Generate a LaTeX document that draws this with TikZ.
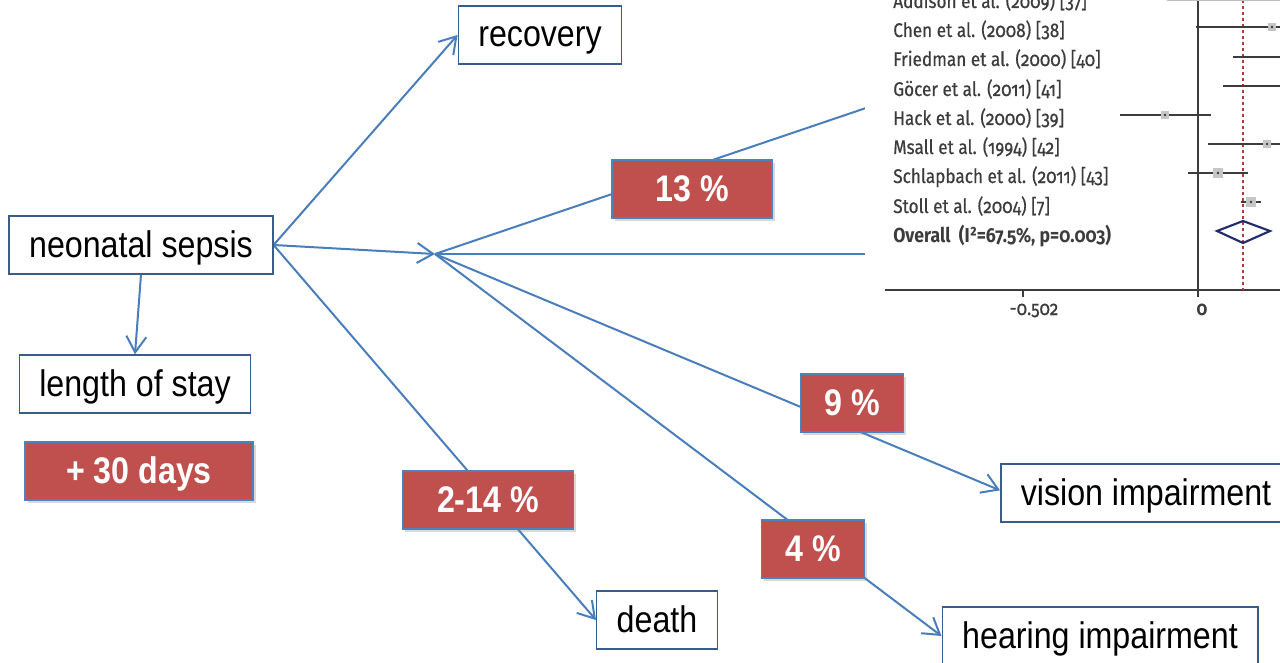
\documentclass[tikz,border=0pt]{standalone}
\usepackage{fontspec}
\setmainfont{Liberation Sans}
\newfontfamily\slidefont[FakeStretch=0.87]{Liberation Sans}
\newfontfamily\plotfont[FakeStretch=0.87,FakeBold=0.6,Numbers=OldStyle]{Fira Sans}
\newfontfamily\plotboldfont[FakeStretch=0.87,Numbers=OldStyle]{Fira Sans Bold}
\usetikzlibrary{arrows.meta,shadows,backgrounds}
\definecolor{linkblue}{HTML}{4A7EBB}
\definecolor{framenavy}{HTML}{385D8A}
\definecolor{ratered}{HTML}{C0504D}
\definecolor{rateedge}{HTML}{4F81BD}
\definecolor{plotgray}{HTML}{3C3C3C}
\definecolor{plotnavy}{HTML}{1F2D6E}
\definecolor{plotred}{HTML}{B03A3A}
\begin{document}
\begin{tikzpicture}[x=0.75pt,y=-0.75pt]
 \tikzset{outcome/.style={draw=framenavy, line width=1.1pt, fill=white, inner xsep=15pt, inner ysep=0pt, text height=23.8pt, text depth=5.8pt, minimum height=43.5pt, font=\slidefont\fontsize{27.75}{30}\selectfont}}
 \tikzset{rate/.style={draw=rateedge, line width=1.1pt, fill=ratered, text=white, inner ysep=0pt, text height=24pt, text depth=6pt, minimum height=43.5pt, font=\slidefont\bfseries\fontsize{27.75}{30}\selectfont, drop shadow={shadow xshift=2pt, shadow yshift=-2.5pt, opacity=0.3}}}
 \tikzset{link/.style={draw=linkblue, line width=1.5pt}}
 \tikzset{arrowlink/.style={link, -{Straight Barb[length=12pt,width=15pt]}}}
 \tikzset{study/.style={anchor=base west, inner sep=0pt, text=plotgray, font=\plotfont\fontsize{14.8}{16}\selectfont}}
 \useasboundingbox (0,0) rectangle (1280,663);
 % outcome boxes
 \node[outcome] (sepsis) at (141,245) {neonatal sepsis};
 \node[outcome] (stay) at (135,384) {length of stay};
 \node[outcome] (recovery) at (540,35) {recovery};
 \node[outcome] (death) at (657,620) {death};
 \node[outcome] (vision) at (1146,493) {vision impairment};
 \node[outcome] (hearing) at (1100,636) {hearing impairment};
 % rates
 \node[rate, minimum width=171pt] (days) at (139,471) {+ 30 days};
 \node[rate, minimum width=120pt] (rate13) at (692,189) {13 \%};
 \node[rate, minimum width=128pt] (rate214) at (488,500) {2-14 \%};
 \node[rate, minimum width=77pt] (rate9) at (852,403) {9 \%};
 \node[rate, minimum width=77pt] (rate4) at (813,549) {4 \%};
 \coordinate (fork) at (435,254);
 \coordinate (hiddenup) at (866,108);
 \coordinate (hiddenmid) at (866,254);
 % connectors
 \begin{scope}[on background layer]
  \draw[arrowlink] (sepsis.east) -- (recovery.west);
  \draw[arrowlink] (sepsis.east) -- (fork);
  \draw[arrowlink] (sepsis.east) -- (death.west);
  \draw[arrowlink] (sepsis.south) -- (stay.north);
  \draw[link] (fork) -- (hiddenup);
  \draw[link] (fork) -- (hiddenmid);
  \draw[arrowlink] (fork) -- ([yshift=2pt]vision.west);
  \draw[arrowlink] (fork) -- (hearing.west);
 \end{scope}
 % forest plot
 \fill[white] (865,0) rectangle (1280,330);
 \draw[plotgray, line width=1.2pt] (885,290) -- (1280,290);
 \draw[plotgray, line width=1.2pt] (1023,290) -- (1023,297);
 \draw[plotgray, line width=1.2pt] (1198,0) -- (1198,297);
 \draw[plotred, line width=1pt, dash pattern=on 2.5pt off 2pt] (1243,0) -- (1243,290);
 \draw[gray!50, line width=1.5pt] (1167,0) -- (1280,0);
 \draw[plotgray, line width=1.5pt] (1196,27) -- (1280,27);
 \draw[plotgray, line width=1.5pt] (1233,57) -- (1280,57);
 \draw[plotgray, line width=1.5pt] (1223,86) -- (1280,86);
 \draw[plotgray, line width=1.5pt] (1120,115) -- (1211,115);
 \draw[plotgray, line width=1.5pt] (1208,144) -- (1280,144);
 \draw[plotgray, line width=1.5pt] (1188,173) -- (1248,173);
 \draw[plotgray, line width=1.5pt] (1241,202) -- (1261,202);
 \fill[gray!45] (1268,23) rectangle (1276,31);
 \fill[gray!45] (1161,111) rectangle (1169,119);
 \fill[gray!45] (1263,140) rectangle (1271,148);
 \fill[gray!45] (1213,168) rectangle (1223,178);
 \fill[gray!45] (1246,197) rectangle (1256,207);
 \fill[plotgray] (1272,27) circle (1.4);
 \fill[plotgray] (1165,115) circle (1.4);
 \fill[plotgray] (1267,144) circle (1.4);
 \fill[plotgray] (1218,173) circle (1.4);
 \fill[plotgray] (1251,202) circle (1.4);
 \draw[plotnavy, line width=1.6pt] (1217,231) -- (1243,221) -- (1270,231) -- (1243,243) -- cycle;
 \node[study] (addison) at (893,8) {Addison et al. (2009) [37]};
 \node[study] (chen) at (893,37) {Chen et al. (2008) [38]};
 \node[study] (friedman) at (893,66) {Friedman et al. (2000) [40]};
 \node[study] (gocer) at (893,96) {Göcer et al. (2011) [41]};
 \node[study] (hack) at (893,125) {Hack et al. (2000) [39]};
 \node[study] (msall) at (893,154) {Msall et al. (1994) [42]};
 \node[study] (schlapbach) at (893,183) {Schlapbach et al. (2011) [43]};
 \node[study] (stoll) at (893,213) {Stoll et al. (2004) [7]};
 \node[study, font=\plotboldfont\fontsize{15.2}{16}\selectfont] (overall) at (893,242) {Overall\ \ (I²=67.5\%, p=0.003)};
 \node[study, anchor=base] (ticklow) at (1034,315) {-0.502};
 \node[study, anchor=base, font=\plotboldfont\fontsize{14.8}{16}\selectfont] (tickzero) at (1202,315) {0};
\end{tikzpicture}
\end{document}
